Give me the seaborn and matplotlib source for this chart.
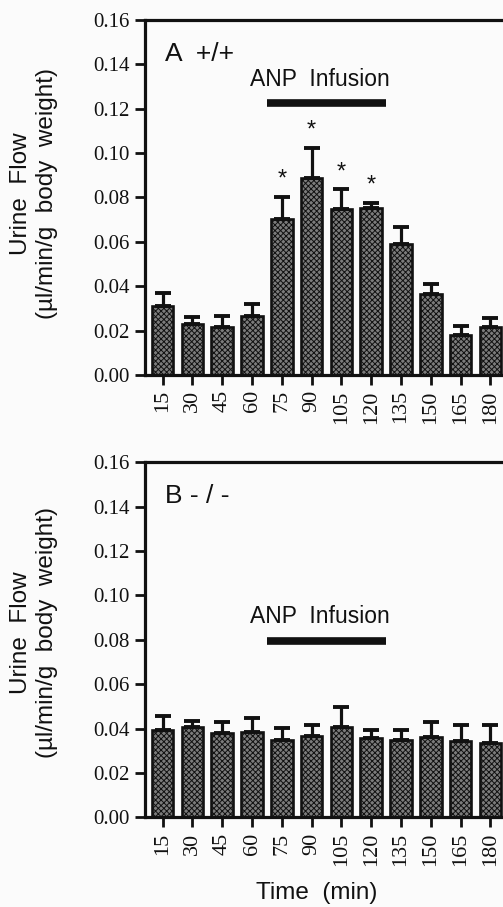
import numpy as np
import pandas as pd
import matplotlib
matplotlib.use('Agg')
import matplotlib.pyplot as plt
import seaborn as sns

# values (mean and SEM, ul/min/g body weight)
times = [15, 30, 45, 60, 75, 90, 105, 120, 135, 150, 165, 180]
wt_mean = [0.0311, 0.0228, 0.0218, 0.0266, 0.0703, 0.0887, 0.0748, 0.0753, 0.0589, 0.0364, 0.0180, 0.0218]
wt_sem = [0.0057, 0.0035, 0.0048, 0.0054, 0.0101, 0.0138, 0.0090, 0.0024, 0.0079, 0.0045, 0.0041, 0.0038]
ko_mean = [0.0393, 0.0408, 0.0380, 0.0386, 0.0347, 0.0366, 0.0408, 0.0359, 0.0348, 0.0361, 0.0345, 0.0336]
ko_sem = [0.0065, 0.0026, 0.0051, 0.0060, 0.0054, 0.0050, 0.0091, 0.0034, 0.0045, 0.0070, 0.0071, 0.0080]
wt_signif = [75, 90, 105, 120]
infusion = (60, 120)  # bar spans from between 60/75 to between 120/135
yticks = [0.00, 0.02, 0.04, 0.06, 0.08, 0.10, 0.12, 0.14, 0.16]

sns.set_style('ticks')
plt.rcParams['font.family'] = ['Liberation Serif', 'DejaVu Serif']
plt.rcParams['hatch.color'] = '#2a2a2a'
plt.rcParams['hatch.linewidth'] = 0.7
SANS = ['Liberation Sans', 'DejaVu Sans']
INK = '#111111'

fig = plt.figure(figsize=(5.03, 9.07), dpi=100, facecolor='#fbfbfb')
ax_a = fig.add_axes([0.2883, 0.5866, 0.7217, 0.3914])
ax_b = fig.add_axes([0.2883, 0.0989, 0.7217, 0.3914])


def panel(ax, mean, sem, tag, text_y, line_y, stars, label_y):
    df = pd.DataFrame({'time': [str(t) for t in times], 'flow': mean})
    sns.barplot(data=df, x='time', y='flow', ax=ax, color='#7c7c7c',
                width=0.72, edgecolor=INK, linewidth=1.9,
                errorbar=None, saturation=1)
    for p in ax.patches:
        p.set_hatch('xxxxxx')
    ax.patch.set_facecolor('#fbfbfb')
    xs = np.arange(len(times))
    ax.errorbar(xs, mean, yerr=[np.zeros(len(sem)), sem], fmt='none',
                ecolor=INK, elinewidth=2.3, capsize=6, capthick=2.8)
    ax.set_xlim(-0.59, len(times) - 0.41)
    ax.set_ylim(0, 0.16)
    ax.set_yticks(yticks)
    ax.set_yticklabels([f'{v:.2f}' for v in yticks], fontsize=15)
    ax.set_xticks(xs)
    ax.set_xticklabels([str(t) for t in times], rotation=90, fontsize=16)
    ax.tick_params(axis='both', direction='out', length=7, width=2,
                   color=INK, labelcolor=INK, pad=4)
    for s in ['left', 'bottom', 'top']:
        ax.spines[s].set_linewidth(2.3)
        ax.spines[s].set_color(INK)
    ax.spines['right'].set_visible(False)
    ax.set_xlabel('')
    ax.set_ylabel('')
    ax.text(0.055, 0.905, tag, transform=ax.transAxes, fontsize=19,
            family=SANS, ha='left', va='center', color=INK)
    i0 = times.index(infusion[0]) + 0.5
    i1 = times.index(infusion[1]) + 0.5
    ax.plot([i0, i1], [line_y, line_y], color=INK, lw=5.5,
            solid_capstyle='butt')
    ax.text((i0 + i1) / 2 - 0.22, text_y, 'ANP  Infusion', fontsize=16.5,
            family=SANS, ha='center', va='center', color=INK)
    for t in stars:
        i = times.index(t)
        ax.text(i, mean[i] + sem[i] + 0.0075, '*', fontsize=17,
                family=SANS, ha='center', va='center', color=INK)
    ax.text(-0.305, label_y, 'Urine  Flow\n(\u00b5l/min/g  body  weight)',
            transform=ax.transAxes, rotation=90, fontsize=17.5,
            family=SANS, ha='center', va='center', linespacing=1.25,
            color=INK)


panel(ax_a, wt_mean, wt_sem, 'A  +/+', 0.133, 0.1224, wt_signif, 0.51)
panel(ax_b, ko_mean, ko_sem, 'B - / -', 0.0904, 0.0796, [], 0.52)

fig.text(0.63, 0.0154, 'Time  (min)', fontsize=17.5, family=SANS,
         ha='center', va='center', color=INK)

fig.savefig('out.png', dpi=100, facecolor=fig.get_facecolor())
